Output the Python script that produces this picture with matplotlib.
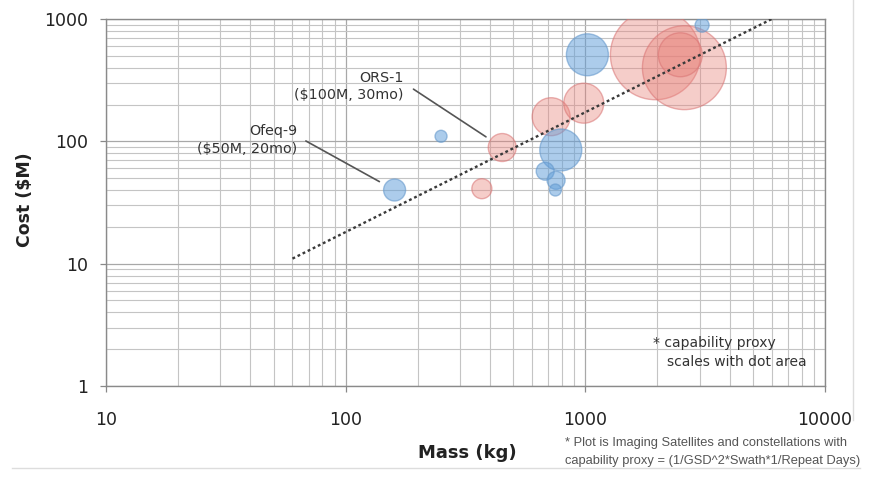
import matplotlib
matplotlib.use("Agg")
import matplotlib.pyplot as plt
from matplotlib.lines import Line2D
from matplotlib.ticker import LogLocator, FixedLocator, FixedFormatter, NullFormatter

# ---------------- data ----------------
blue_mass = [160, 250, 790, 680, 755, 750, 1020, 3070]
blue_cost = [40, 110, 85, 57, 48, 40, 510, 890]
blue_capability = [121, 36, 441, 81, 81, 36, 441, 49]

red_mass = [450, 370, 720, 985, 1960, 2590, 2490]
red_cost = [89, 41, 159, 205, 510, 400, 510]
red_capability = [196, 100, 361, 400, 2025, 1764, 484]

trend_mass = [60, 6000]
trend_cost = [11, 1000]

x_ticks = [10, 100, 1000, 10000]
x_tick_labels = ["10", "100", "1000", "10000"]
y_ticks = [1, 10, 100, 1000]
y_tick_labels = ["1", "10", "100", "1000"]

ors_label = "ORS-1\n($100M, 30mo)"
ors_point = (450, 89)
ofeq_label = "Ofeq-9\n($50M, 20mo)"
ofeq_point = (160, 40)

# ---------------- figure ----------------
W, H = 892, 479
fig = plt.figure(figsize=(W / 100, H / 100), dpi=100)
fig.patch.set_facecolor("white")
ax = fig.add_axes([106 / W, 1 - 386 / H, (825 - 106) / W, (386 - 19) / H])

ax.set_xscale("log")
ax.set_yscale("log")
ax.set_xlim(10, 10000)
ax.set_ylim(1, 1000)

size_k = 2.07
ax.scatter(red_mass, red_cost, s=[c * size_k for c in red_capability],
           facecolor=(0.91, 0.51, 0.48, 0.40), edgecolor=(0.85, 0.45, 0.45, 0.55),
           linewidth=1.0, zorder=3, clip_on=True)
ax.scatter(blue_mass, blue_cost, s=[c * size_k for c in blue_capability],
           facecolor=(0.38, 0.62, 0.85, 0.52), edgecolor=(0.40, 0.60, 0.80, 0.6),
           linewidth=1.0, zorder=3, clip_on=True)

ax.plot(trend_mass, trend_cost, color="#3a3a3a", lw=1.7,
        linestyle=(0, (1.2, 1.2)), zorder=4)

# grid
ax.grid(True, which="major", color="#a8a8a8", lw=0.9, zorder=0)
ax.grid(True, which="minor", color="#c4c4c4", lw=0.8, zorder=0)
ax.set_axisbelow(True)

ax.xaxis.set_major_locator(FixedLocator(x_ticks))
ax.xaxis.set_major_formatter(FixedFormatter(x_tick_labels))
ax.yaxis.set_major_locator(FixedLocator(y_ticks))
ax.yaxis.set_major_formatter(FixedFormatter(y_tick_labels))
ax.xaxis.set_minor_locator(LogLocator(base=10, subs=range(2, 10)))
ax.yaxis.set_minor_locator(LogLocator(base=10, subs=range(2, 10)))
ax.xaxis.set_minor_formatter(NullFormatter())
ax.yaxis.set_minor_formatter(NullFormatter())

ax.tick_params(which="major", direction="out", length=4, width=0.9,
               color="#888888", labelsize=12.5, labelcolor="#222222")
ax.tick_params(which="minor", length=0)
ax.tick_params(axis="x", pad=14)
ax.tick_params(axis="y", pad=9)
for s in ax.spines.values():
    s.set_color("#8a8a8a")
    s.set_linewidth(1.0)

# annotations
ax.annotate(ors_label, xy=ors_point, xytext=(-71, 44), textcoords="offset points",
            ha="right", va="center", multialignment="right", fontsize=10.3,
            color="#333333", linespacing=1.3,
            arrowprops=dict(arrowstyle="-", color="#555555", lw=1.2,
                            relpos=(1, 0.62), patchA=None, shrinkA=8.5, shrinkB=14))
ax.annotate(ofeq_label, xy=ofeq_point, xytext=(-70, 36), textcoords="offset points",
            ha="right", va="center", multialignment="right", fontsize=10.3,
            color="#333333", linespacing=1.3,
            arrowprops=dict(arrowstyle="-", color="#555555", lw=1.2,
                            relpos=(1, 0.62), patchA=None, shrinkA=7, shrinkB=12.5))

ax.text((653 - 106) / 719, (386 - 343) / 367, "* capability proxy",
        transform=ax.transAxes, ha="left", va="center", fontsize=10, color="#333333")
ax.text((667 - 106) / 719, (386 - 362) / 367, "scales with dot area",
        transform=ax.transAxes, ha="left", va="center", fontsize=10, color="#333333")

# axis titles
fig.text(25 / W, 1 - 200 / H, "Cost ($M)", rotation=90, ha="center", va="center",
         fontsize=12.5, fontweight="bold", color="#222222")
fig.text(467 / W, 1 - 453 / H, "Mass (kg)", ha="center", va="center",
         fontsize=13, fontweight="bold", color="#222222")

# footnote
fig.text(565 / W, 1 - 443 / H, "* Plot is Imaging Satellites and constellations with",
         ha="left", va="center", fontsize=9.3, color="#555555", family="Liberation Sans")
fig.text(565 / W, 1 - 461 / H, "capability proxy = (1/GSD^2*Swath*1/Repeat Days)",
         ha="left", va="center", fontsize=9.3, color="#555555", family="Liberation Sans")

# frame lines of the slide
fig.add_artist(Line2D([853 / W, 853 / W], [1 - 0 / H, 1 - 420 / H],
                      transform=fig.transFigure, color="#dddddd", lw=1.0))
fig.add_artist(Line2D([12 / W, 860 / W], [1 - 468 / H, 1 - 468 / H],
                      transform=fig.transFigure, color="#dddddd", lw=1.0))

fig.savefig("out.png", dpi=100, facecolor="white")
